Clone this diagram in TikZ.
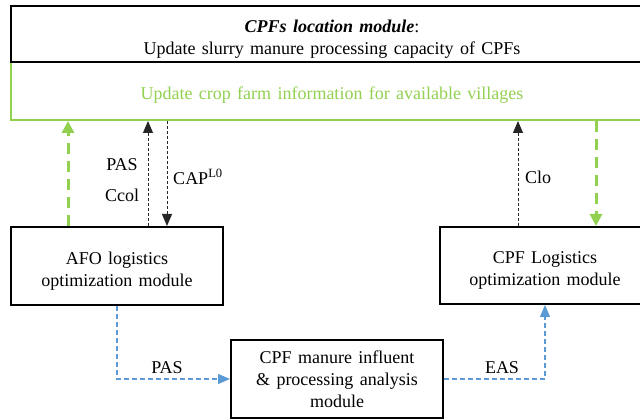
\documentclass[tikz,border=0pt]{standalone}
\usepackage{fontspec}
\setmainfont{Liberation Serif}[WordSpace=1.4]
\usetikzlibrary{arrows.meta}
\definecolor{leafgreen}{HTML}{92D050}
\definecolor{flowblue}{HTML}{5B9BD5}
% centred block of lines, drawn lower than its box reports
\newcommand\modlines[2][4pt]{\raisebox{-#1}[\height][\depth]{\begin{tabular}{@{}c@{}}#2\end{tabular}}}
\begin{document}
\begin{tikzpicture}[x=1pt,y=-1pt,
  txt/.style={font=\fontsize{18}{22}\selectfont, inner sep=0pt},
  modbox/.style={txt, draw=black, line width=2pt, fill=white},
  infoarrow/.style={draw=black!85, line width=1pt, dash pattern=on 3pt off 2pt,
    -{Triangle[width=10pt,length=12pt]}},
  greenarrow/.style={draw=leafgreen, line width=3pt, dash pattern=on 11pt off 7pt,
    -{Triangle[width=12pt,length=12pt]}},
  bluearrow/.style={draw=flowblue, line width=1.2pt, dash pattern=on 5pt off 3pt,
    -{Triangle[width=10pt,length=12pt]}},
  lbl/.style={txt}
]
\useasboundingbox (0,0) rectangle (640,419);
\clip (0,0) rectangle (640,419);

% location module: crop-farm band and CPF capacity header
\node[txt, draw=leafgreen, line width=2pt, minimum width=642pt, minimum height=58pt,
      text=leafgreen] (crop) at (332,91)
  {\modlines[4pt]{Update crop farm information for available villages}};
\node[modbox, minimum width=642pt, minimum height=56pt] (loc) at (332,34)
  {\modlines[5pt]{\textbf{\textit{CPFs location module}}:\\Update slurry manure processing capacity of CPFs}};

% optimisation and analysis modules
\node[modbox, minimum width=212pt, minimum height=78pt] (afo) at (117,266)
  {\modlines[5pt]{AFO logistics\\optimization module}};
\node[modbox, minimum width=210pt, minimum height=77pt] (cpf) at (545,265.5)
  {\modlines[5pt]{CPF Logistics\\optimization module}};
\node[modbox, minimum width=212pt, minimum height=78pt] (mid) at (337,379)
  {\modlines[2pt]{CPF manure influent\\\& processing analysis\\module}};

% connector columns
\coordinate (gA) at (68,0);
\coordinate (kA) at (148,0);
\coordinate (kB) at (167,0);
\coordinate (kC) at (518,0);
\coordinate (gB) at (596,0);

\draw[greenarrow] (afo.north -| gA) -- (crop.south -| gA);
\draw[infoarrow] (afo.north -| kA) -- (crop.south -| kA);
\draw[infoarrow] (crop.south -| kB) -- (afo.north -| kB);
\draw[infoarrow] (cpf.north -| kC) -- (crop.south -| kC);
\draw[greenarrow] (crop.south -| gB) -- (cpf.north -| gB);

\draw[bluearrow] (afo.south) |- (mid.west);
\draw[bluearrow] (mid.east) -| (cpf.south);

% connector labels
\node[lbl] (lpas) at (122,165) {PAS};
\node[lbl] (lccol) at (122,195) {Ccol};
\node[lbl] (lcap) at (198,177) {CAP\textsuperscript{L0}};
\node[lbl] (lclo) at (538,177) {Clo};
\node[lbl] (lpas2) at (167,368) {PAS};
\node[lbl] (leas) at (502,368) {EAS};
\end{tikzpicture}
\end{document}
